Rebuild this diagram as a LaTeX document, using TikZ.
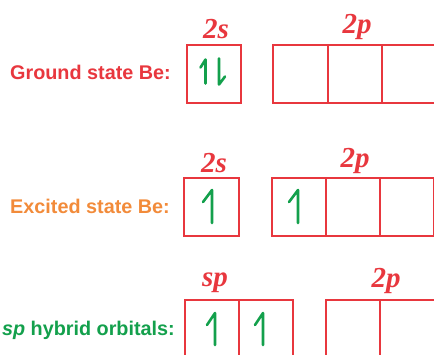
\documentclass[tikz,border=0pt]{standalone}
\usepackage{fontspec}
\setmainfont{Liberation Sans}
\newfontfamily\orbfont{Liberation Serif}
\usetikzlibrary{positioning}
\definecolor{boxred}{HTML}{E8373E}
\definecolor{exorange}{HTML}{F28B3A}
\definecolor{spingreen}{HTML}{13A04C}

\begin{document}
\begin{tikzpicture}[x=1pt,y=-1pt,
  box/.style={draw=boxred,line width=1.6pt},
  orb/.style={text=boxred,anchor=base,inner sep=0pt,font=\orbfont\bfseries\itshape\fontsize{29}{29}\selectfont},
  rowlabel/.style={anchor=east,inner sep=0pt,font=\bfseries\fontsize{19.8}{20}\selectfont},
  spin/.style={draw=spingreen,line width=2.6pt,line cap=round,line join=round}]
\clip (0,0) rectangle (434,354);

% ground state
\node[rowlabel,text=boxred] (gslabel) at (171,72) {Ground state Be:};
\draw[box] (187,45) rectangle (241,103);
\foreach \x in {273,328,382} \draw[box] (\x,45) rectangle ++(54.5,58);
\node[orb] (gstwos) at (216,38) {2s};
\node[orb] (gstwop) at (357,33) {2p};
\draw[spin] (200.5,67.5)--(205.5,59.5)--(205.5,83.5);
\draw[spin] (225,76.5)--(219,84.5)--(219,58.5);

% excited state
\node[rowlabel,text=exorange] (exlabel) at (170,206) {Excited state Be:};
\draw[box] (184,178) rectangle (239,236);
\foreach \x in {272,326,380} \draw[box] (\x,178) rectangle ++(54,58);
\node[orb] (extwos) at (214,172) {2s};
\node[orb] (extwop) at (355,167) {2p};
\draw[spin] (203,202)--(212,190)--(212,223);
\draw[spin] (289,202)--(298,190)--(298,223);

% sp hybrid
\node[rowlabel,text=spingreen] (splabel) at (175,330) {\textit{sp} hybrid orbitals:};
\foreach \x in {185,239} \draw[box] (\x,300) rectangle ++(54,60);
\foreach \x in {326,380} \draw[box] (\x,300) rectangle ++(54.5,60);
\node[orb] (spsp) at (215,286) {sp};
\node[orb] (sptwop) at (386,287) {2p};
\draw[spin] (207,325)--(215,313)--(215,345);
\draw[spin] (255,325)--(263,313)--(263,345);
\end{tikzpicture}
\end{document}
